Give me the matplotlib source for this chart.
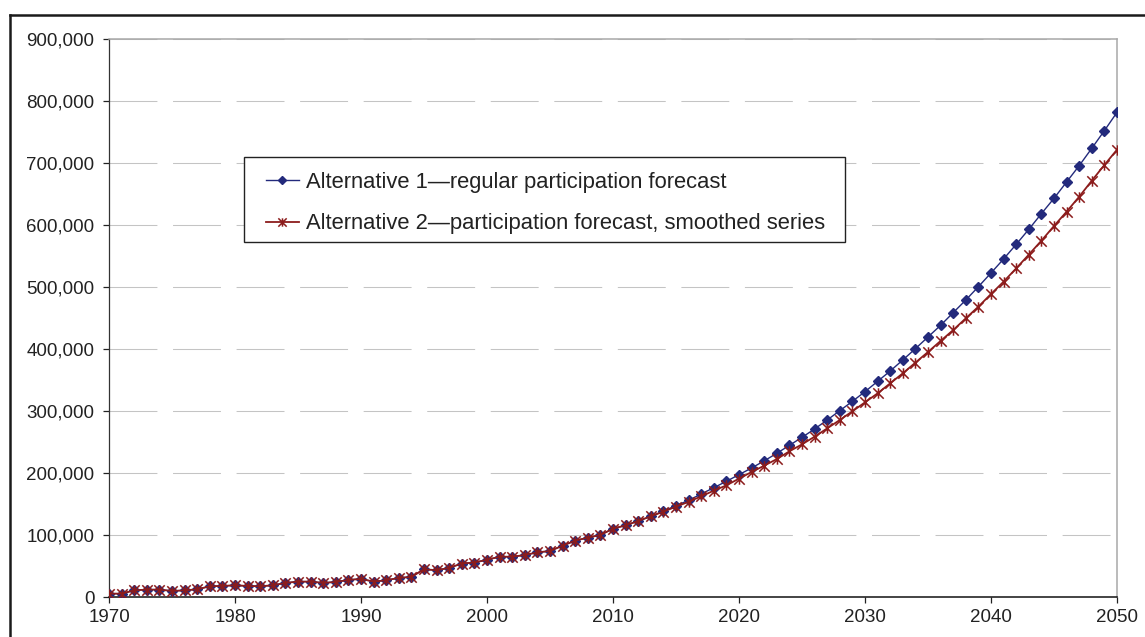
import numpy as np
import matplotlib
matplotlib.use("Agg")
import matplotlib.pyplot as plt
from matplotlib.path import Path
from matplotlib.lines import Line2D
from matplotlib.patches import Rectangle
from matplotlib.ticker import FuncFormatter, MultipleLocator

plt.rcParams['font.family'] = ['Liberation Sans', 'DejaVu Sans']

# ── Datos ─────────────────────────────────────────────────
years = list(range(1970, 2051))

alt1 = [5400, 5400, 10800, 11900, 11900, 9700, 10800, 12400, 17300, 17800,
        18900, 17800, 17300, 18900, 22700, 24800, 24800, 22700, 24300, 27500,
        29200, 24800, 27000, 30800, 32400, 44800, 43200, 47000, 54000, 55600,
        60000, 65000, 65000, 67700, 72000, 74200, 82800, 90900, 95700, 100000,
        110200, 115600, 122600, 130100, 138700, 147300, 155900, 166100, 176300, 186600,
        197300, 208100, 219600, 231700, 244600, 257500, 271000, 285500, 300500, 315600,
        331200, 347800, 364500, 382300, 400500, 419400, 438200, 458600, 479000, 500500,
        522600, 545200, 568800, 593000, 618300, 643000, 669400, 695700, 723700, 752200,
        781700]

alt2 = [5400, 5400, 10800, 11900, 11900, 9700, 10800, 12400, 17300, 17800,
        18900, 17800, 17300, 18900, 22700, 24800, 24800, 22700, 24300, 27500,
        29200, 24800, 27000, 30800, 32400, 44800, 43200, 47000, 54000, 55600,
        60000, 65000, 65000, 67700, 72000, 74200, 82800, 90900, 95700, 100000,
        110200, 115600, 122600, 130100, 137600, 145700, 153500, 162400, 171500, 180100,
        190900, 201600, 211800, 222500, 235000, 246200, 258600, 272000, 285500, 299500,
        314000, 328500, 344600, 360800, 378000, 395200, 413000, 430600, 449500, 468300,
        488700, 508600, 530100, 552200, 574700, 598400, 621500, 645700, 671500, 696800,
        721500]

labels = ['Alternative 1\u2014regular participation forecast',
          'Alternative 2\u2014participation forecast, smoothed series']

# ── Figura ────────────────────────────────────────────────
W, H = 1145, 637
fig = plt.figure(figsize=(W / 100, H / 100), dpi=100)
ax = fig.add_axes([109 / W, 1 - 597 / H, (1117 - 109) / W, (597 - 39) / H])

# marcador asterisco tipo Excel (x + línea vertical)
star = Path([(0, -1), (0, 1), (-1, -1), (1, 1), (-1, 1), (1, -1)],
            [Path.MOVETO, Path.LINETO] * 3)

azul = '#232a7c'
rojo = '#8c1c1c'

ax.plot(years, alt1, color=azul, lw=1.0, marker='D', markersize=5.5,
        markerfacecolor=azul, markeredgecolor=azul, label=labels[0], zorder=3)
ax.plot(years, alt2, color=rojo, lw=1.3, marker=star, markersize=7.5,
        markeredgewidth=1.1, markeredgecolor=rojo, label=labels[1], zorder=4)

ax.set_xlim(1970, 2050)
ax.set_ylim(0, 900000)
ax.xaxis.set_major_locator(MultipleLocator(10))
ax.yaxis.set_major_locator(MultipleLocator(100000))
ax.yaxis.set_major_formatter(FuncFormatter(lambda v, p: f'{v:,.0f}'))

ax.yaxis.grid(True, color='#c4c4c4', lw=0.75, linestyle=(0, (46, 15)))
ax.set_axisbelow(True)

for lado in ['top', 'right']:
    ax.spines[lado].set_color('#a8a8a8')
    ax.spines[lado].set_linewidth(1.1)
ax.spines['left'].set_color('#333333')
ax.spines['left'].set_linewidth(0.9)
ax.spines['bottom'].set_color('#111111')
ax.spines['bottom'].set_linewidth(1.1)

ax.tick_params(axis='both', direction='out', length=4, width=0.9,
               colors='#222222', labelsize=13.5)
ax.tick_params(axis='y', pad=6.5)
ax.tick_params(axis='x', pad=5)

# recuadro de la leyenda dibujado a mano
ax.add_patch(Rectangle((244 / W, 1 - 242 / H), 601 / W, 85 / H,
                       transform=fig.transFigure, facecolor='white',
                       edgecolor='#222222', lw=1.0, zorder=4.9, clip_on=False))

leg = ax.legend(loc='upper left', bbox_to_anchor=(266 / W, 1 - 172 / H),
                bbox_transform=fig.transFigure, fontsize=15.8, frameon=False,
                borderaxespad=0, borderpad=0, handlelength=1.5,
                handletextpad=0.3, labelspacing=0.93, markerscale=0.8)
for t in leg.get_texts():
    t.set_color('#222222')

# marco exterior (solo arriba e izquierda visibles)
fig.add_artist(Line2D([10 / W, 1.0], [1 - 15 / H, 1 - 15 / H],
                      transform=fig.transFigure, color='#1a1a1a', lw=1.8))
fig.add_artist(Line2D([10 / W, 10 / W], [0, 1 - 15 / H],
                      transform=fig.transFigure, color='#1a1a1a', lw=1.8))

fig.savefig('out.png', dpi=100)
